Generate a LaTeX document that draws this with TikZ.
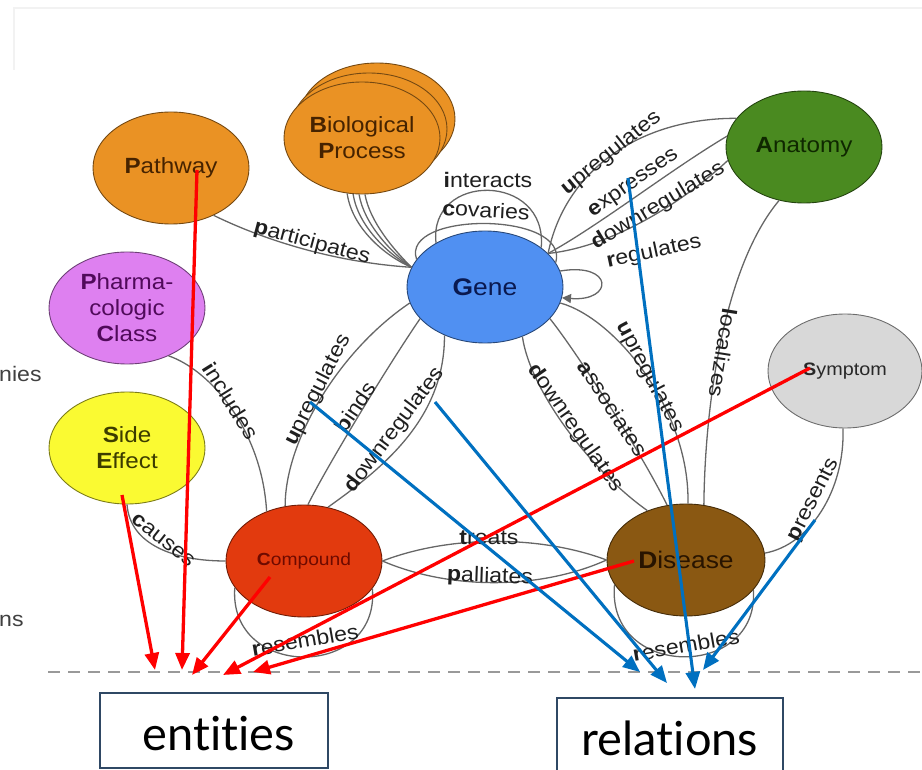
\documentclass[tikz,border=0pt]{standalone}
\usepackage{fontspec}
\setmainfont{Liberation Sans}[FakeStretch=1.1]
\newfontfamily\boxfont{Lato}[Ligatures={NoCommon}]
\usetikzlibrary{shapes.geometric,arrows.meta}
\definecolor{orng}{RGB}{234,146,36}
\definecolor{pharm}{RGB}{222,128,240}
\definecolor{yel}{RGB}{250,250,50}
\definecolor{geneblue}{RGB}{80,144,242}
\definecolor{anat}{RGB}{74,138,32}
\definecolor{symp}{RGB}{216,216,216}
\definecolor{comp}{RGB}{226,58,14}
\definecolor{dis}{RGB}{138,88,18}
\definecolor{relblue}{RGB}{0,112,192}
\definecolor{boxblue}{RGB}{47,72,100}
\definecolor{pathtext}{RGB}{70,35,0}
\definecolor{pharmtext}{RGB}{80,10,90}
\definecolor{sidetext}{RGB}{60,60,0}
\definecolor{genetext}{RGB}{10,25,80}
\definecolor{anattext}{RGB}{15,40,0}
\definecolor{symptext}{RGB}{40,40,40}
\definecolor{comptext}{RGB}{110,10,0}
\definecolor{distext}{RGB}{40,20,0}
\begin{document}
\begin{tikzpicture}[x=1pt,y=-1pt,
  ent/.style={ellipse, draw=#1!50!black, fill=#1, line width=0.9pt, minimum width=156pt, minimum height=112pt, inner sep=0pt, align=center},
  nfont/.style={font=\fontsize{22}{26}\selectfont},
  edge/.style={draw=black!60, line width=1.3pt},
  lab/.style={font=\fontsize{21}{23}\selectfont, text=black!88, inner sep=0pt},
  redarr/.style={draw=red, line width=3.3pt, -{Triangle[length=17pt,width=14pt]}},
  bluearr/.style={draw=relblue, line width=3.1pt, -{Triangle[length=17pt,width=14pt]}},
  tbox/.style={draw=boxblue, line width=1.8pt, inner sep=0pt, font=\boxfont\fontsize{47}{50}\selectfont}
]
\useasboundingbox (0,0) rectangle (922,770);
% faint frame
\coordinate (f1) at (14,70); \coordinate (f2) at (14,8); \coordinate (f3) at (922,8);
\draw[black!5, line width=1.5pt] (f1) -- (f2) -- (f3);

% nodes
\node[ent=orng, text=pathtext, nfont] (pathway) at (171,168) {\textbf{P}athway};
\node[ent=orng] (bp3) at (377,119) {};
\node[ent=orng] (bp2) at (369,129) {};
\node[ent=orng, text=pathtext, nfont] (bp) at (362,138) {\textbf{B}iological\\\textbf{P}rocess};
\node[ent=pharm, text=pharmtext, nfont] (pharma) at (127,308) {\textbf{P}harma-\\cologic\\\textbf{C}lass};
\node[ent=yel, text=sidetext, nfont] (side) at (127,448) {\textbf{S}ide\\\textbf{E}ffect};
\node[ent=geneblue, text=genetext, font=\fontsize{24}{26}\selectfont] (gene) at (485,287) {\textbf{G}ene};
\node[ent=anat, text=anattext, nfont] (anatomy) at (804,147) {\textbf{A}natomy};
\node[ent=symp, text=symptext, font=\fontsize{18}{20}\selectfont, minimum width=154pt, minimum height=114pt] (symptom) at (845,371) {\textbf{S}ymptom};
\node[ent=comp, text=comptext, font=\fontsize{17.5}{20}\selectfont] (compound) at (304,561) {\textbf{C}ompound};
\node[ent=dis, text=distext, font=\fontsize{24}{26}\selectfont, minimum width=158pt] (disease) at (686,560) {\textbf{D}isease};

% edges
\draw[edge] (pathway.-48) .. controls (260,238) and (330,262) .. (gene.165);
\draw[edge] (bp.255) .. controls (352,228) and (385,256) .. (gene.165);
\draw[edge] (bp.261) .. controls (358,226) and (388,254) .. (gene.165);
\draw[edge] (bp.267) .. controls (364,224) and (391,252) .. (gene.165);
\draw[edge] (bp.273) .. controls (370,222) and (394,250) .. (gene.165);
\draw[edge] (gene.138) .. controls (428,172) and (548,172) .. (gene.35);
\draw[edge] (gene.158) .. controls (400,211) and (570,211) .. (gene.19);
\draw[edge, -{Triangle[length=9pt,width=9pt]}] (gene.12) .. controls (614,262) and (614,302) .. (gene.-8);
\draw[edge] (gene.28) .. controls (565,170) and (640,118) .. (anatomy.157);
\draw[edge] (gene.28) .. controls (600,225) and (670,170) .. (anatomy.172);
\draw[edge] (gene.28) .. controls (610,247) and (680,205) .. (anatomy.190);
\draw[edge] (anatomy.245) .. controls (725,265) and (705,400) .. (disease.72);
\draw[edge] (gene.-12) .. controls (615,318) and (690,410) .. (disease.88);
\draw[edge] (gene.-26) .. controls (575,350) and (640,450) .. (disease.109);
\draw[edge] (gene.-53) .. controls (530,390) and (590,470) .. (disease.128);
\draw[edge] (pharma.-49) .. controls (210,370) and (262,430) .. (compound.127);
\draw[edge] (compound.109) .. controls (285,440) and (340,350) .. (gene.192);
\draw[edge] (compound.86) .. controls (325,470) and (385,370) .. (gene.206);
\draw[edge] (compound.66) .. controls (380,470) and (445,420) .. (gene.230);
\draw[edge] (side.270) .. controls (130,545) and (175,561) .. (compound.180);
\draw[edge] (compound.0) .. controls (450,535) and (540,535) .. (disease.180);
\draw[edge] (compound.0) .. controls (450,590) and (540,590) .. (disease.180);
\draw[edge] (compound.201) .. controls (228,680) and (380,680) .. (compound.-22);
\draw[edge] (disease.199) .. controls (606,680) and (760,680) .. (disease.-24);
\draw[edge] (symptom.268) .. controls (845,490) and (810,545) .. (disease.5);

% edge labels
\node[lab, rotate=-15] (lpart) at (312,243) {\textbf{p}articipates};
\node[lab] (lint) at (488,180) {\textbf{i}nteracts};
\node[lab, rotate=-3] (lcov) at (486,210) {\textbf{c}ovaries};
\node[lab, rotate=39] (lupa) at (611,153) {\textbf{u}pregulates};
\node[lab, rotate=35] (lexp) at (634,184) {\textbf{e}xpresses};
\node[lab, rotate=31] (ldowna) at (658,206) {\textbf{d}ownregulates};
\node[lab, rotate=12] (lreg) at (654,252) {\textbf{r}egulates};
\node[lab, rotate=-99] (lloc) at (723,353) {\textbf{l}ocalizes};
\node[lab, rotate=-62] (lupd) at (650,377) {\textbf{u}pregulates};
\node[lab, rotate=-57] (lasso) at (613,408) {\textbf{a}ssociates};
\node[lab, rotate=-55] (ldownd) at (575,428) {\textbf{d}ownregulates};
\node[lab, rotate=-58] (linc) at (231,401) {\textbf{i}ncludes};
\node[lab, rotate=63] (lupc) at (318,390) {\textbf{u}pregulates};
\node[lab, rotate=56] (lbinds) at (355,407) {\textbf{b}inds};
\node[lab, rotate=53] (ldownc) at (395,430) {\textbf{d}ownregulates};
\node[lab, rotate=-38] (lcauses) at (163,540) {\textbf{c}auses};
\node[lab] (ltreats) at (489,538) {\textbf{t}reats};
\node[lab, rotate=-2] (lpall) at (490,577) {\textbf{p}alliates};
\node[lab, rotate=10] (lres1) at (305,640) {\textbf{r}esembles};
\node[lab, rotate=10] (lres2) at (686,645) {\textbf{r}esembles};
\node[lab, rotate=63] (lpres) at (814,500) {\textbf{p}resents};

% cropped side texts
\node[lab, anchor=west, text=black!75] (frag1) at (-1,374) {nies};
\node[lab, anchor=west, text=black!75] (frag2) at (-1,621) {ns};

% dashed separator
\coordinate (d1) at (48,672); \coordinate (d2) at (922,672);
\draw[black!40, line width=1.4pt, dash pattern=on 12pt off 8pt] (d1) -- (d2);

% boxes
\node[tbox, minimum width=228pt, minimum height=75pt] (entities) at (214,730.5) {\hspace*{10pt}\raisebox{-20pt}[0pt][0pt]{entities}};
\node[tbox, minimum width=226pt, minimum height=80pt] (relations) at (670,738) {relations};

% red arrows (entities)
\coordinate (r1s) at (197,170); \coordinate (r1e) at (182,670);
\coordinate (r2s) at (122,495); \coordinate (r2e) at (155,670);
\coordinate (r3s) at (270,577); \coordinate (r3e) at (192,675);
\coordinate (r4s) at (810,368); \coordinate (r4e) at (223,675);
\coordinate (r5s) at (634,561); \coordinate (r5e) at (253,672);
\draw[redarr] (r1s) -- (r1e);
\draw[redarr] (r2s) -- (r2e);
\draw[redarr] (r3s) -- (r3e);
\draw[redarr] (r4s) -- (r4e);
\draw[redarr] (r5s) -- (r5e);

% blue arrows (relations)
\coordinate (b1s) at (310,402); \coordinate (b1e) at (640,672);
\coordinate (b2s) at (435,402); \coordinate (b2e) at (667,683);
\coordinate (b3s) at (628,178); \coordinate (b3e) at (695,689);
\coordinate (b4s) at (815,520); \coordinate (b4e) at (703,670);
\draw[bluearr] (b1s) -- (b1e);
\draw[bluearr] (b2s) -- (b2e);
\draw[bluearr] (b3s) -- (b3e);
\draw[bluearr] (b4s) -- (b4e);
\end{tikzpicture}
\end{document}
